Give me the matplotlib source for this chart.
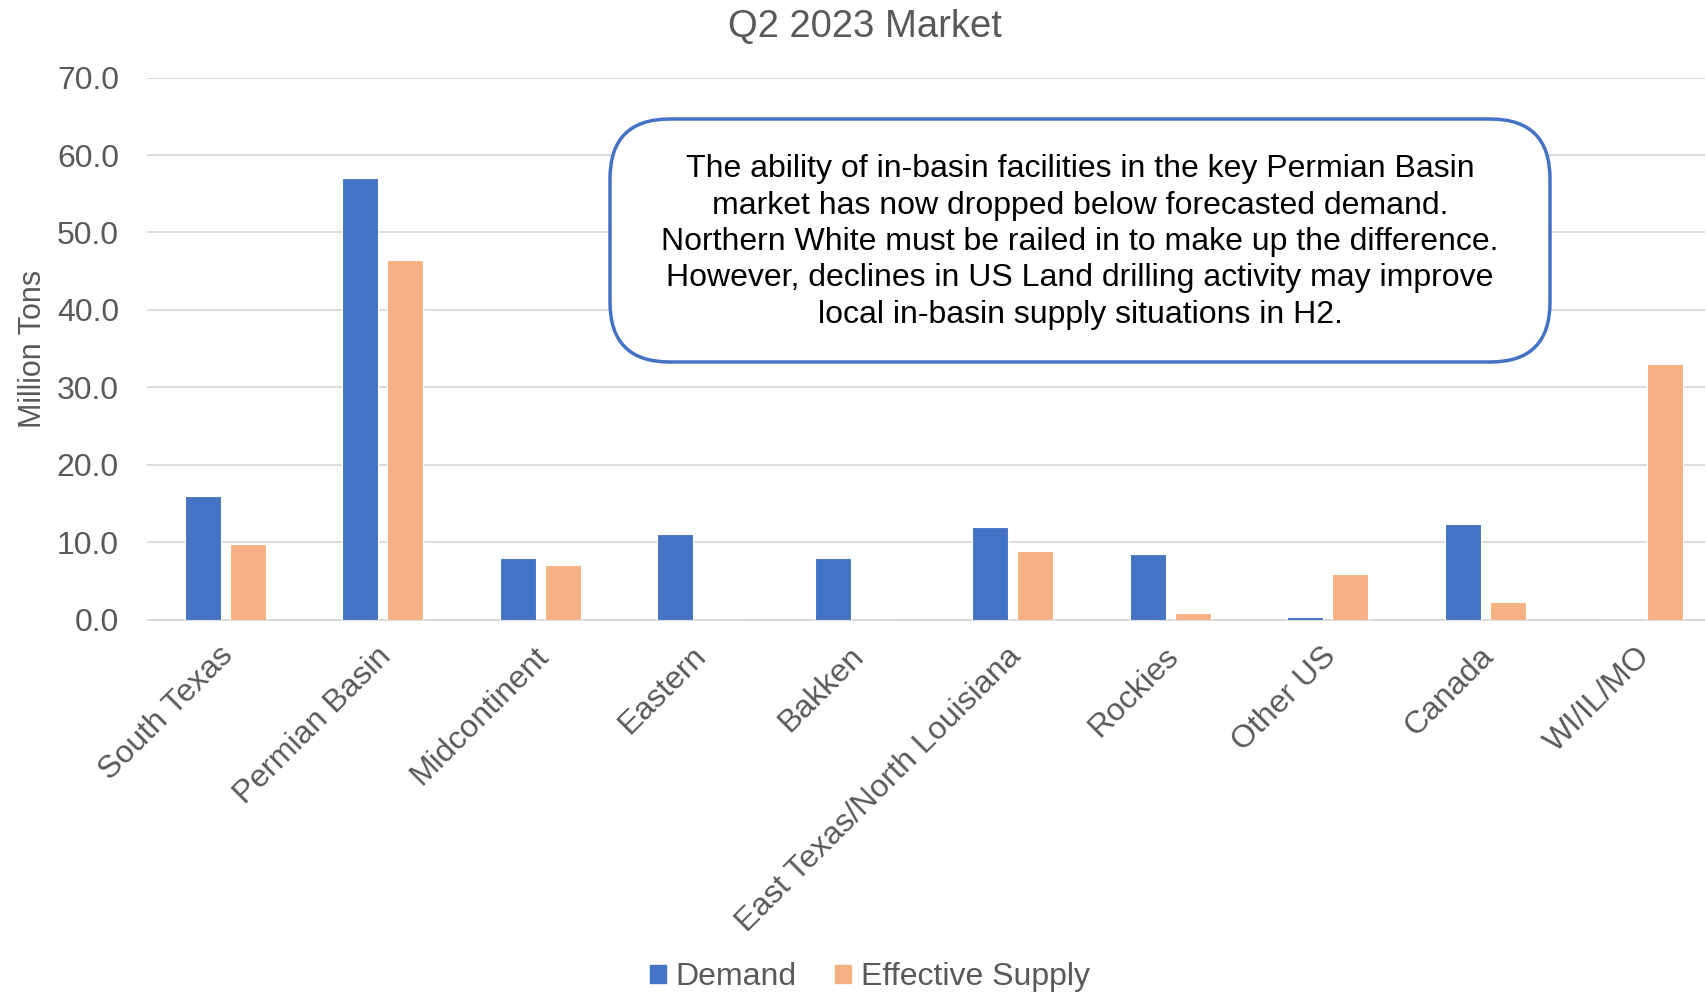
import matplotlib.pyplot as plt
import matplotlib.transforms as mtransforms
import numpy as np
from matplotlib.patches import FancyBboxPatch, Patch

plt.rcParams['font.family'] = ['Liberation Sans', 'DejaVu Sans']

# data
regions = ['South Texas', 'Permian Basin', 'Midcontinent', 'Eastern', 'Bakken',
           'East Texas/North Louisiana', 'Rockies', 'Other US', 'Canada', 'WI/IL/MO']
demand = [16.0, 57.0, 7.9, 11.0, 7.9, 11.9, 8.5, 0.3, 12.3, 0.0]
supply = [9.8, 46.4, 7.0, 0.0, 0.0, 8.9, 0.9, 5.9, 2.3, 33.0]
yticks = [0, 10, 20, 30, 40, 50, 60, 70]

blue = '#4472C4'
orange = '#F4B183'
grey = '#595959'

fig = plt.figure(figsize=(17.06, 9.96), dpi=100)
ax = fig.add_axes([0.086, 0.378, 0.923, 0.544])

x = np.arange(len(regions))
w = 0.228
ax.bar(x - 0.143, demand, w, color=blue, edgecolor='white', linewidth=0.8, zorder=3)
ax.bar(x + 0.143, supply, w, color=orange, edgecolor='white', linewidth=0.8, zorder=3)

ax.set_xlim(-0.5, len(regions) - 0.5)
ax.set_ylim(0, 70)
ax.set_yticks(yticks)
ax.set_yticklabels(['%.1f' % v for v in yticks], fontsize=23, color=grey)
ax.yaxis.grid(True, color='#D9D9D9', linewidth=1.3, zorder=0)
ax.tick_params(axis='both', length=0)
ax.tick_params(axis='y', pad=20)
ax.set_xticks(x)
ax.set_xticklabels(regions, rotation=45, ha='right', rotation_mode='anchor',
                   fontsize=23, color=grey)
ax.tick_params(axis='x', pad=14)
shift = mtransforms.ScaledTranslation(-0.07, -0.02, fig.dpi_scale_trans)
for lab in ax.get_xticklabels():
    lab.set_transform(lab.get_transform() + shift)
for s in ['top', 'right', 'left']:
    ax.spines[s].set_visible(False)
ax.spines['bottom'].set_color('#D9D9D9')
ax.spines['bottom'].set_linewidth(1.3)

ax.set_ylabel('Million Tons', fontsize=22, color=grey, labelpad=6)
fig.text(0.507, 0.973, 'Q2 2023 Market', ha='center', va='center', fontsize=27.5, color=grey)

# callout box
box = FancyBboxPatch((610 / 1706, 1 - 362 / 996), 940 / 1706, 243 / 996,
                     boxstyle='round,pad=0,rounding_size=0.035',
                     transform=fig.transFigure, facecolor='white', edgecolor=blue,
                     linewidth=2.5, mutation_aspect=1706 / 996, zorder=5)
fig.patches.append(box)
note = ('The ability of in-basin facilities in the key Permian Basin\n'
        'market has now dropped below forecasted demand.\n'
        'Northern White must be railed in to make up the difference.\n'
        'However, declines in US Land drilling activity may improve\n'
        'local in-basin supply situations in H2.')
fig.text(1080 / 1706, 1 - 242 / 996, note, ha='center', va='center', fontsize=23,
         color='black', linespacing=1.28, zorder=6)

handles = [Patch(color=blue, label='Demand'), Patch(color=orange, label='Effective Supply')]
fig.legend(handles=handles, loc='center', bbox_to_anchor=(0.51, 0.019), ncol=2,
           frameon=False, fontsize=23, labelcolor=grey, handlelength=0.5,
           handleheight=0.5, handletextpad=0.3, columnspacing=1.2)

fig.savefig('out.png', dpi=100)
